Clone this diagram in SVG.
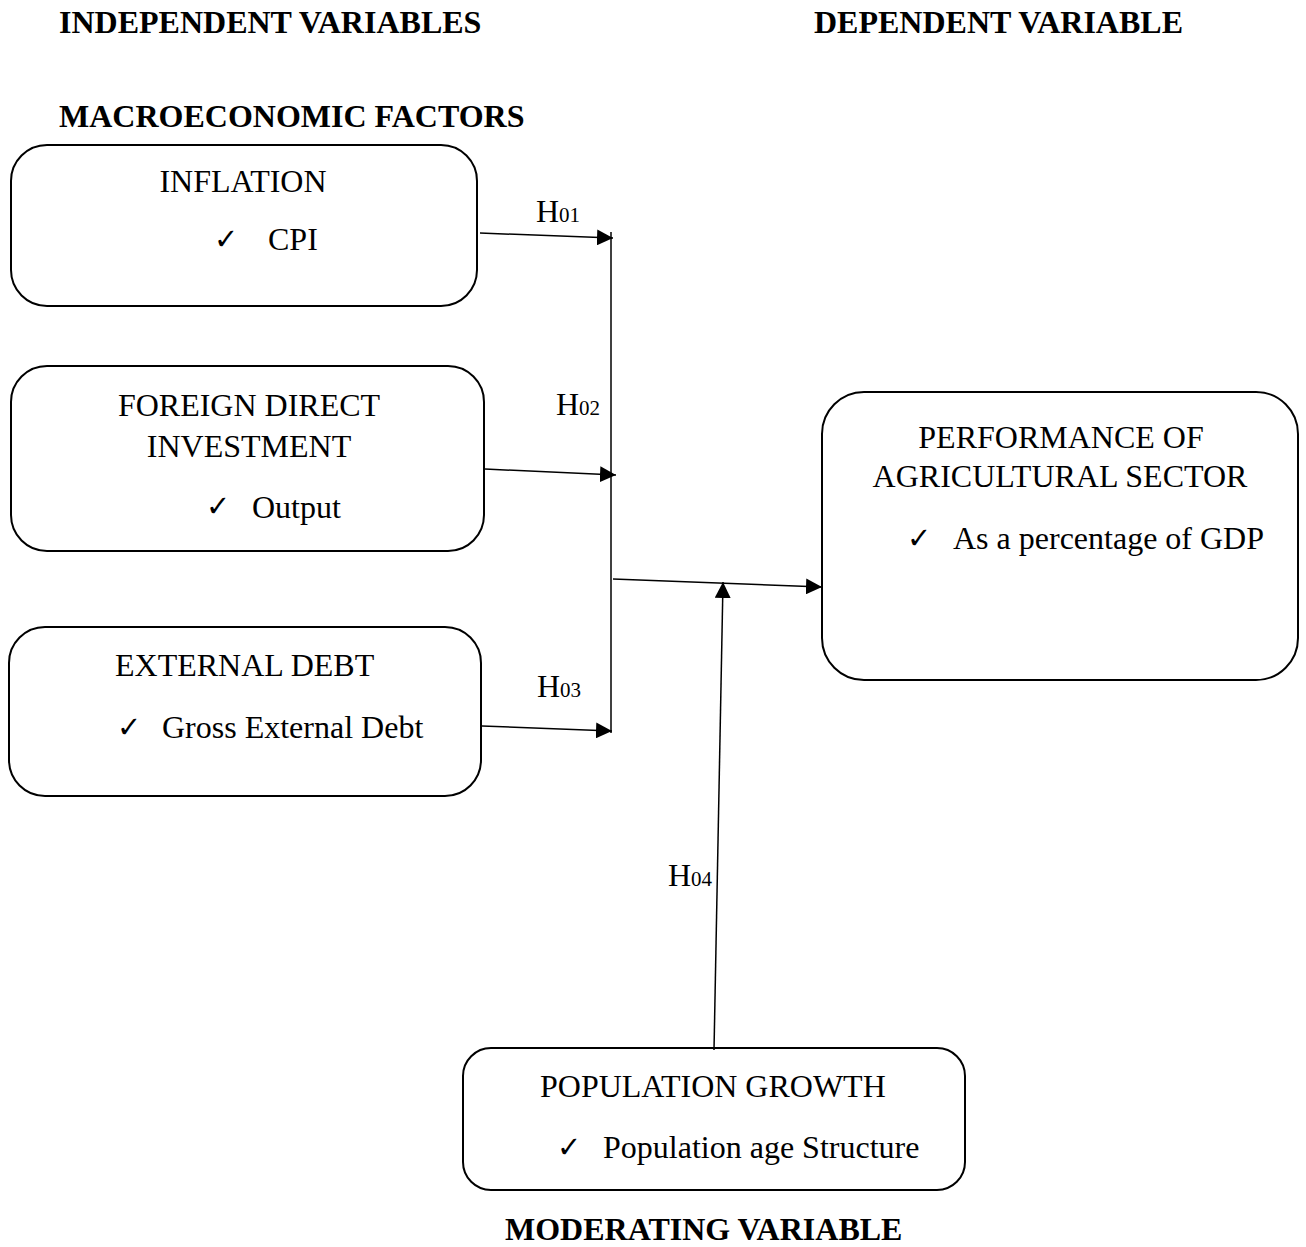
<svg xmlns="http://www.w3.org/2000/svg" width="1306" height="1247" viewBox="0 0 1306 1247">
<style>
text{font-family:"Liberation Serif","Times New Roman",serif;font-size:32px;fill:#000}
.h{font-weight:bold}
.ck{font-family:"DejaVu Sans",sans-serif;font-size:29px;font-weight:bold}
.sub{font-size:21px}
.box{fill:#fff;stroke:#000;stroke-width:2}
.ln{stroke:#000;stroke-width:1.5;fill:none}
</style>
<defs>
<marker id="ah" viewBox="0 0 10 10" refX="10" refY="5" markerWidth="16" markerHeight="16" markerUnits="userSpaceOnUse" orient="auto">
<path d="M0,0 L10,5 L0,10 z" fill="#000"/>
</marker>
</defs>
<g id="headers">
<text class="h" x="59" y="33">INDEPENDENT VARIABLES</text>
<text class="h" x="814" y="33">DEPENDENT VARIABLE</text>
<text class="h" x="59" y="127">MACROECONOMIC FACTORS</text>
<text class="h" x="505" y="1240">MODERATING VARIABLE</text>
</g>
<g id="inflation">
<rect class="box" x="11" y="145" width="466" height="161" rx="36"/>
<text x="243" y="192" text-anchor="middle">INFLATION</text>
<text class="ck" x="214" y="249">✓</text>
<text x="268" y="250">CPI</text>
</g>
<g id="fdi">
<rect class="box" x="11" y="366" width="473" height="185" rx="36"/>
<text x="249" y="416" text-anchor="middle">FOREIGN DIRECT</text>
<text x="249" y="457" text-anchor="middle">INVESTMENT</text>
<text class="ck" x="206" y="516">✓</text>
<text x="252" y="518">Output</text>
</g>
<g id="debt">
<rect class="box" x="9" y="627" width="472" height="169" rx="36"/>
<text x="115" y="676">EXTERNAL DEBT</text>
<text class="ck" x="117" y="737">✓</text>
<text x="162" y="738">Gross External Debt</text>
</g>
<g id="performance">
<rect class="box" x="822" y="392" width="476" height="288" rx="42"/>
<text x="1061" y="448" text-anchor="middle">PERFORMANCE OF</text>
<text x="1060" y="487" text-anchor="middle">AGRICULTURAL SECTOR</text>
<text class="ck" x="907" y="548">✓</text>
<text x="953" y="549">As a percentage of GDP</text>
</g>
<g id="population">
<rect class="box" x="463" y="1048" width="502" height="142" rx="28"/>
<text x="540" y="1097">POPULATION GROWTH</text>
<text class="ck" x="557" y="1157">✓</text>
<text x="603" y="1158">Population age Structure</text>
</g>
<g id="connectors">
<line class="ln" x1="611" y1="232" x2="611" y2="733"/>
<line class="ln" x1="480" y1="233" x2="613" y2="238" marker-end="url(#ah)"/>
<line class="ln" x1="485" y1="469" x2="616" y2="475" marker-end="url(#ah)"/>
<line class="ln" x1="482" y1="726" x2="612" y2="731" marker-end="url(#ah)"/>
<line class="ln" x1="613" y1="579" x2="822" y2="587" marker-end="url(#ah)"/>
<line class="ln" x1="714" y1="1050" x2="723" y2="582" marker-end="url(#ah)"/>
</g>
<g id="labels">
<text x="536" y="222">H<tspan class="sub">01</tspan></text>
<text x="556" y="415">H<tspan class="sub">02</tspan></text>
<text x="537" y="697">H<tspan class="sub">03</tspan></text>
<text x="668" y="886">H<tspan class="sub">04</tspan></text>
</g>
</svg>
